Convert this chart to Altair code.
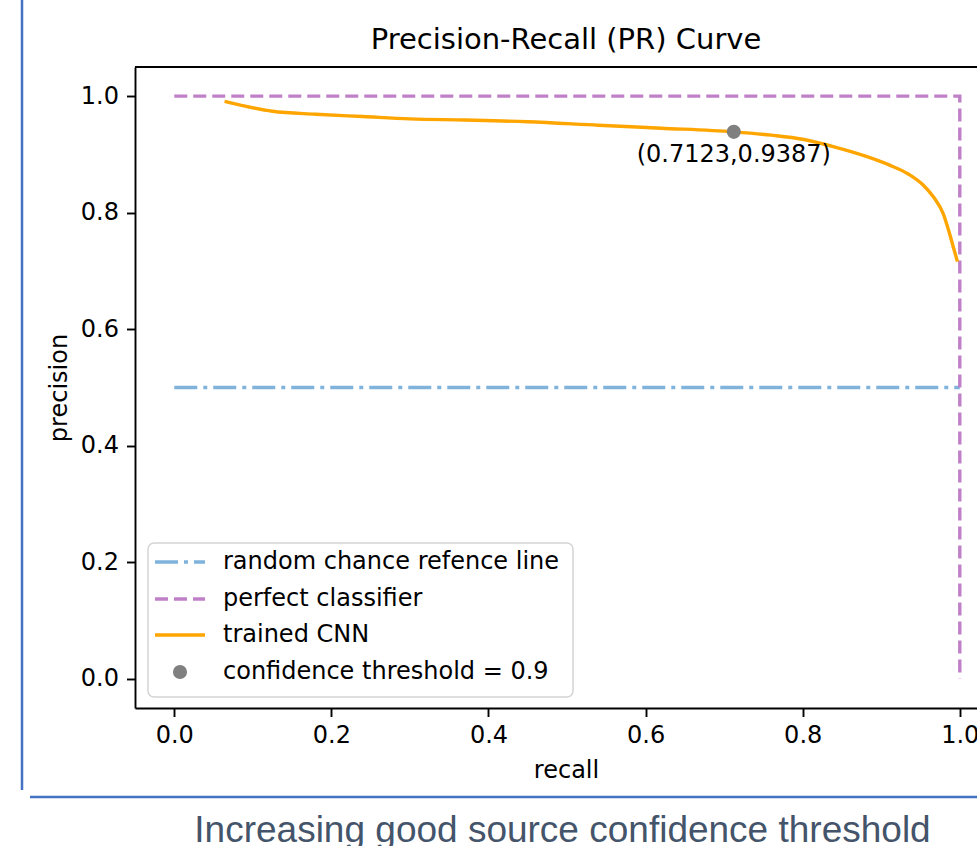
import altair as alt
import pandas as pd

# ---------------- data ----------------
cnn_recall = [0.064, 0.125, 0.18, 0.24, 0.30, 0.37, 0.45, 0.54, 0.62, 0.7123,
              0.76, 0.80, 0.84, 0.88, 0.91, 0.935, 0.953, 0.967, 0.979, 0.987, 0.993, 0.997]
cnn_precision = [0.991, 0.974, 0.969, 0.965, 0.961, 0.959, 0.956, 0.950, 0.945, 0.9387,
                 0.933, 0.926, 0.913, 0.897, 0.882, 0.866, 0.848, 0.826, 0.798, 0.764, 0.735, 0.716]
random_recall = [0.0, 1.0]
random_precision = [0.5, 0.5]
perfect_recall = [0.0, 1.0, 1.0]
perfect_precision = [1.0, 1.0, 0.0]
thr_recall = [0.7123]
thr_precision = [0.9387]
legend_labels = ["random chance refence line", "perfect classifier", "trained CNN",
                 "confidence threshold = 0.9"]
tick_values = [0.0, 0.2, 0.4, 0.6, 0.8, 1.0]
title_text = "Precision-Recall (PR) Curve"
caption_text = "Increasing good source confidence threshold"

# ---------------- styling ----------------
W, H = 842, 641
FONT = "DejaVu Sans"
C_BLUE = "#7fb3dc"
C_PURPLE = "#c080c8"
C_ORANGE = "#ffa500"
C_GRAY = "#808080"
LW = 3.4
DASH = [13, 6]
DASHDOT = [23, 6, 4, 6]

xs = alt.Scale(domain=[-0.05, 1.0219], nice=False, zero=False)
ys = alt.Scale(domain=[-0.05, 1.05], nice=False, zero=False)

xaxis = alt.Axis(values=tick_values, format=".1f", title="recall", grid=False,
                 labelFlush=False, labelOverlap=False, labelPadding=7,
                 titleX=431, titleY=69, titleBaseline="alphabetic", titleAlign="center")
yaxis = alt.Axis(values=tick_values, format=".1f", title="precision", grid=False,
                 labelFlush=False, labelOverlap=False, labelPadding=8,
                 titleX=-69, titleY=320.5, titleAngle=-90, titleBaseline="alphabetic",
                 titleAlign="center")


def X():
    return alt.X("recall:Q", scale=xs, axis=xaxis)


def Y():
    return alt.Y("precision:Q", scale=ys, axis=yaxis)


df_cnn = pd.DataFrame({"recall": cnn_recall, "precision": cnn_precision,
                       "i": range(len(cnn_recall))})
df_rand = pd.DataFrame({"recall": random_recall, "precision": random_precision,
                        "i": range(len(random_recall))})
df_perf = pd.DataFrame({"recall": perfect_recall, "precision": perfect_precision,
                        "i": range(len(perfect_recall))})
df_thr = pd.DataFrame({"recall": thr_recall, "precision": thr_precision})
df_thr["label"] = [f"({r},{p})" for r, p in zip(thr_recall, thr_precision)]
one = pd.DataFrame({"a": [0]})

rand_line = alt.Chart(df_rand).mark_line(color=C_BLUE, strokeWidth=LW, strokeDash=DASHDOT).encode(
    x=X(), y=Y(), order="i:Q")
perf_line = alt.Chart(df_perf).mark_line(color=C_PURPLE, strokeWidth=LW, strokeDash=DASH).encode(
    x=X(), y=Y(), order="i:Q")
cnn_line = alt.Chart(df_cnn).mark_line(color=C_ORANGE, strokeWidth=LW,
                                       interpolate="monotone").encode(
    x=X(), y=Y(), order="i:Q")
thr_pt = alt.Chart(df_thr).mark_circle(color=C_GRAY, opacity=1, size=200).encode(x=X(), y=Y())
thr_txt = alt.Chart(df_thr).mark_text(font=FONT, fontSize=24, color="#000000", dy=23,
                                      baseline="middle", align="center").encode(
    x=X(), y=Y(), text="label:N")

# top frame line of the axes box
top_border = alt.Chart(one).mark_rule(color="#000000", strokeWidth=1.9).encode(
    x=alt.value(0), x2=alt.value(W), y=alt.value(0))

# chart title (text mark so that it sits over the axes box, not over the slide frame)
title_mark = alt.Chart(one).mark_text(font=FONT, fontSize=29, color="#000000",
                                      align="center", baseline="alphabetic").encode(
    x=alt.value(431), y=alt.value(-18), text=alt.value(title_text))

# legend box
leg_frame = alt.Chart(one).mark_rect(fill="white", stroke="#d0d0d0", strokeWidth=1.5,
                                     cornerRadius=6, opacity=0.9).encode(
    x=alt.value(13), x2=alt.value(438), y=alt.value(476), y2=alt.value(630))
row_y = [495, 532, 568, 605]
leg_layers = [leg_frame]
leg_layers.append(alt.Chart(one).mark_rule(color=C_BLUE, strokeWidth=LW, strokeDash=DASHDOT).encode(
    x=alt.value(20), x2=alt.value(70), y=alt.value(row_y[0])))
leg_layers.append(alt.Chart(one).mark_rule(color=C_PURPLE, strokeWidth=LW, strokeDash=DASH).encode(
    x=alt.value(20), x2=alt.value(70), y=alt.value(row_y[1])))
leg_layers.append(alt.Chart(one).mark_rule(color=C_ORANGE, strokeWidth=LW).encode(
    x=alt.value(20), x2=alt.value(70), y=alt.value(row_y[2])))
leg_layers.append(alt.Chart(one).mark_circle(color=C_GRAY, opacity=1, size=200).encode(
    x=alt.value(45), y=alt.value(row_y[3])))
for lab, yy in zip(legend_labels, row_y):
    leg_layers.append(alt.Chart(one).mark_text(font=FONT, fontSize=24, color="#000000",
                                               align="left", baseline="middle").encode(
        x=alt.value(88), y=alt.value(yy), text=alt.value(lab)))

# slide decorations around the figure
deco_v = alt.Chart(one).mark_rule(color="#4472c4", strokeWidth=2.5).encode(
    x=alt.value(-113), y=alt.value(-67), y2=alt.value(723))
deco_h = alt.Chart(one).mark_rule(color="#4472c4", strokeWidth=2.5).encode(
    x=alt.value(-105), x2=alt.value(W), y=alt.value(730))
caption = alt.Chart(one).mark_text(font="Liberation Sans", fontSize=37, color="#44546a",
                                   align="center", baseline="alphabetic").encode(
    x=alt.value(427.5), y=alt.value(775), text=alt.value(caption_text))

chart = alt.layer(
    rand_line, perf_line, cnn_line, thr_pt, thr_txt, top_border, title_mark, *leg_layers,
    deco_v, deco_h, caption
).properties(
    width=W, height=H,
    autosize=alt.AutoSizeParams(type="none"),
    padding={"left": 135, "top": 67, "right": 0, "bottom": 138},
    background="white",
).configure_view(stroke=None).configure_axis(
    labelFont=FONT, labelFontSize=24, labelColor="#000000",
    titleFont=FONT, titleFontSize=24, titleFontWeight="normal", titleColor="#000000",
    domainColor="#000000", domainWidth=1.9, tickColor="#000000", tickWidth=1.9,
    tickSize=8.5,
)

chart.save("out.html", embed_options={"renderer": "svg", "actions": False})
